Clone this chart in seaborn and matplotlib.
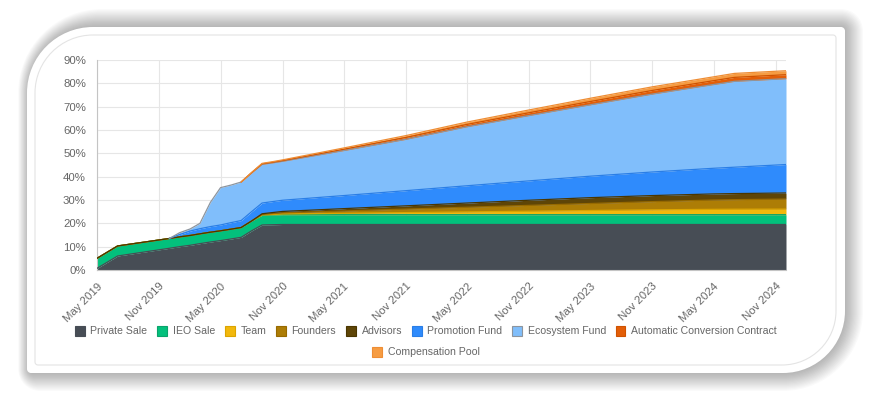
import numpy as np
import pandas as pd
import seaborn as sns
import matplotlib.pyplot as plt
from matplotlib.path import Path
from matplotlib.patches import PathPatch, Patch

# release schedule points (cumulative % of supply unlocked per pool)
dates = pd.to_datetime([
    "2019-05-01", "2019-07-01", "2019-12-01", "2020-01-01", "2020-02-01",
    "2020-03-01", "2020-04-01", "2020-05-01", "2020-06-01", "2020-07-01",
    "2020-08-01", "2020-09-01", "2020-10-01", "2020-11-01", "2021-05-01",
    "2021-11-01", "2022-05-01", "2022-11-01", "2023-05-01", "2023-11-01",
    "2024-05-01", "2024-07-01", "2024-12-01"])

private_sale = [0.7, 6.0, 9.3, 10.0, 10.6, 11.3, 12.0, 12.6, 13.3, 14.0, 16.8, 19.3,
                19.4, 19.5, 19.5, 19.5, 19.5, 19.5, 19.5, 19.5, 19.5, 19.5, 19.5]
ieo_sale = [4.3, 4.3, 4.2, 4.2, 4.2, 4.2, 4.2, 4.2, 4.2, 4.2, 4.2, 4.2,
            4.2, 4.2, 4.2, 4.2, 4.2, 4.2, 4.2, 4.2, 4.2, 4.2, 4.2]
team = [0, 0, 0, 0, 0, 0, 0, 0, 0, 0, 0, 0.1,
        0.2, 0.3, 0.6, 0.9, 1.2, 1.5, 1.8, 2.1, 2.3, 2.35, 2.4]
founders = [0, 0, 0, 0, 0, 0, 0, 0, 0, 0, 0, 0.2,
            0.35, 0.5, 1.0, 1.5, 2.0, 2.5, 3.0, 3.5, 4.0, 4.1, 4.3]
advisors = [0, 0, 0, 0, 0, 0, 0, 0, 0, 0, 0, 0.3,
            0.45, 0.6, 1.0, 1.4, 1.8, 2.2, 2.5, 2.6, 2.6, 2.6, 2.6]
promotion = [None, None, 0, 1.0, 1.9, 2.2, 2.4, 2.5, 2.8, 3.0, 4.0, 4.6,
             4.7, 4.8, 5.6, 6.5, 7.4, 8.3, 9.2, 10.1, 11.0, 11.3, 12.2]
ecosystem = [None, None, 0, 0.8, 0.9, 2.3, 10.4, 16.0, 16.1, 16.5, 16.6, 16.6,
             16.6, 16.7, 19.3, 22.0, 25.3, 28.0, 30.6, 33.4, 35.9, 36.8, 36.8]
auto_conv = [None, None, None, None, None, None, None, None, None, 0, 0.1, 0.2,
             0.25, 0.3, 0.55, 0.8, 1.0, 1.2, 1.4, 1.55, 1.65, 1.7, 1.7]
compensation = [None, None, None, None, None, None, None, None, None, 0, 0.1, 0.2,
                0.25, 0.3, 0.55, 0.8, 1.0, 1.2, 1.4, 1.55, 1.65, 1.7, 1.7]

names = ["Private Sale", "IEO Sale", "Team", "Founders", "Advisors", "Promotion Fund",
         "Ecosystem Fund", "Automatic Conversion Contract", "Compensation Pool"]
fills = ["#474d55", "#03c07c", "#f2b80c", "#ad7d06", "#5e4507", "#2f8bfc",
         "#80befb", "#e35e08", "#f69c42"]
edges = ["#474d55", "#0aa36b", "#dba400", "#976a00", "#4a3600", "#2a7ee6",
         "#8d959e", "#cf5200", "#ee8d34"]

df = pd.DataFrame({"date": dates})
for n, s in zip(names, [private_sale, ieo_sale, team, founders, advisors, promotion,
                        ecosystem, auto_conv, compensation]):
    df[n] = pd.to_numeric(pd.Series(s), errors="coerce")

W, H = 872, 401
sns.set_style("white")
plt.rcParams["font.family"] = ["Liberation Sans", "DejaVu Sans"]

fig = plt.figure(figsize=(W / 100, H / 100), dpi=100)


def card(l, t, r, b, rtl, rtr, rbr, rbl):
    k = 0.5523
    def P(x, y):
        return (x / W, 1 - y / H)
    def corner(p0, c, p1):
        a = (p0[0] + k * (c[0] - p0[0]), p0[1] + k * (c[1] - p0[1]))
        bb = (p1[0] + k * (c[0] - p1[0]), p1[1] + k * (c[1] - p1[1]))
        return [P(*a), P(*bb), P(*p1)]
    v = [P(l + rtl, t), P(r - rtr, t)]
    c = [Path.MOVETO, Path.LINETO]
    v += corner((r - rtr, t), (r, t), (r, t + rtr)); c += [Path.CURVE4] * 3
    v += [P(r, b - rbr)]; c += [Path.LINETO]
    v += corner((r, b - rbr), (r, b), (r - rbr, b)); c += [Path.CURVE4] * 3
    v += [P(l + rbl, b)]; c += [Path.LINETO]
    v += corner((l + rbl, b), (l, b), (l, b - rbl)); c += [Path.CURVE4] * 3
    v += [P(l, t + rtl)]; c += [Path.LINETO]
    v += corner((l, t + rtl), (l, t), (l + rtl, t)); c += [Path.CURVE4] * 3
    v += [P(l + rtl, t)]; c += [Path.CLOSEPOLY]
    return Path(v, c)


# soft shadow behind the card
for d in np.linspace(18, 0, 16):
    sh = PathPatch(card(27 - d * 0.6 + 2, 27 - d, 845 + d, 373 + d,
                        66 + d, 4 + d, 62 + d, 4 + d),
                   transform=fig.transFigure, facecolor="#000000", edgecolor="none",
                   alpha=0.018, zorder=-10)
    fig.add_artist(sh)
fig.add_artist(PathPatch(card(27, 27, 845, 373, 66, 4, 62, 4), transform=fig.transFigure,
                         facecolor="white", edgecolor="none", zorder=-9))
fig.add_artist(PathPatch(card(35, 35, 836, 365, 58, 3, 54, 3), transform=fig.transFigure,
                         facecolor="none", edgecolor="#e4e4e4", lw=0.8, zorder=-8))

ax = fig.add_axes([97 / W, 1 - 270 / H, 689 / W, 210 / H])
ax.set_facecolor("none")

base = np.zeros(len(df))
tops = []
for n, fc in zip(names, fills):
    vals = df[n].to_numpy()
    ok = ~np.isnan(vals)
    top = base + np.nan_to_num(vals)
    ax.fill_between(df["date"][ok], base[ok], top[ok], color=fc, lw=0, zorder=2)
    tops.append((top, ok))
    base = top
for (top, ok), n, ec in zip(tops, names, edges):
    sns.lineplot(x=df["date"][ok], y=top[ok], color=ec, lw=0.9, ax=ax, legend=False, zorder=3)

ax.set_xlim(pd.Timestamp("2019-05-01"), pd.Timestamp("2024-12-01"))
ax.set_ylim(0, 90)
ax.set_yticks(range(0, 91, 10))
ax.set_yticklabels([f"{v}%" for v in range(0, 91, 10)])
ticks = pd.date_range("2019-05-01", "2024-11-01", freq="6MS")
ax.set_xticks(ticks)
ax.set_xticklabels([t.strftime("%b %Y") for t in ticks], rotation=45, ha="right",
                   va="top", rotation_mode="anchor")
ax.grid(True, color="#e6e6e6", lw=0.8, zorder=0)
ax.set_axisbelow(True)
ax.set_xlabel("")
ax.set_ylabel("")
for s in ["top", "right"]:
    ax.spines[s].set_visible(False)
for s in ["left", "bottom"]:
    ax.spines[s].set_color("#c4c4c4")
    ax.spines[s].set_linewidth(0.8)
ax.tick_params(axis="both", length=6, color="#e0e0e0", width=0.8, labelsize=8.2,
               labelcolor="#666666", pad=2)

handles = [Patch(facecolor=fc, edgecolor=ec, lw=0.8, label=n)
           for n, fc, ec in zip(names, fills, edges)]
leg_kw = dict(frameon=False, fontsize=7.6, handlelength=0.9, handleheight=1.1,
              handletextpad=0.55, columnspacing=0.95, labelcolor="#666666",
              borderpad=0, borderaxespad=0)
fig.legend(handles=handles[:8], ncol=8, loc="center",
           bbox_to_anchor=(426 / W, 1 - 331 / H), **leg_kw)
fig.legend(handles=handles[8:], ncol=1, loc="center",
           bbox_to_anchor=(426 / W, 1 - 352 / H), **leg_kw)

fig.savefig("out.png", dpi=100)
